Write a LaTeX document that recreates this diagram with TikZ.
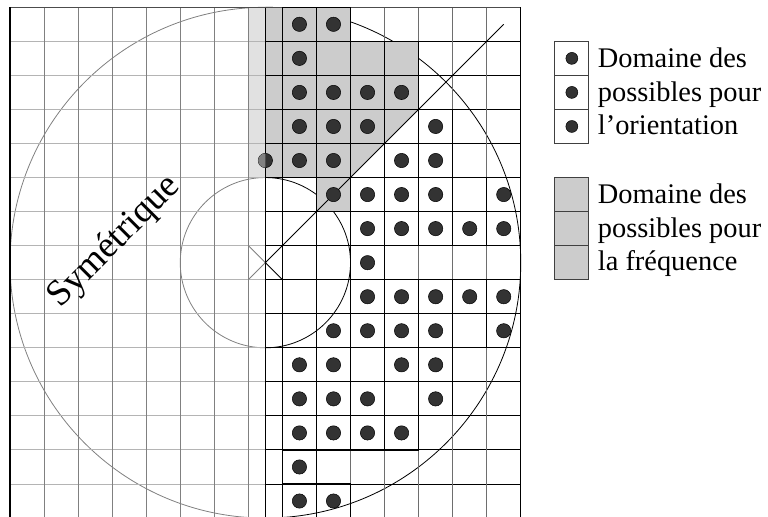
\documentclass[tikz,border=0pt]{standalone}
\usepackage{fontspec}
\setmainfont{Liberation Serif}
\usetikzlibrary{calc}
\definecolor{freqGray}{RGB}{204,204,204}
\definecolor{symGray}{RGB}{225,225,225}
\definecolor{dotFill}{RGB}{51,51,51}
\definecolor{leftLine}{RGB}{128,128,128}
\definecolor{leftLineH}{RGB}{180,180,180}
\definecolor{rightLine}{RGB}{110,110,110}

\begin{document}
\begin{tikzpicture}[x=34.05pt, y=34.05pt,
  dotmark/.style={fill=dotFill, draw=black, line width=0.5pt},
  cellbox/.style={draw=black, line width=1.1pt},
  legendbox/.style={draw=black!75, line width=1pt},
  legendtext/.style={anchor=north west, inner sep=0pt, align=left,
                     font=\fontsize{28.4}{33.5}\selectfont}]
  \useasboundingbox (-0.2937,0.031) rectangle (22.261,15.2144);
  \coordinate (ctr) at (7.5,7.5);
  \coordinate (tip) at (14.5,14.5);

  % cercles
  \draw[leftLine, line width=0.8pt] (7.5,15) arc (90:270:7.5);
  \draw[black, line width=0.8pt] (7.5,15) arc (90:-90:7.5);
  \draw[leftLine, line width=0.8pt] (7.5,10) arc (90:270:2.5);
  \draw[black, line width=0.8pt] (7.5,10) arc (90:-90:2.5);

  % domaines
  \fill[symGray] (7,10) rectangle (7.5,15);
  \fill[freqGray] (7.5,15) -- (10,15) -- (10,14) -- (12,14) -- (12,12)
    -- (10,10) -- (10,9) -- (9,9) -- (9,10) -- (7.5,10) -- cycle;

  % grille
  \foreach \i in {1,...,14} {
    \draw[leftLineH, line width=1pt] (0,\i) -- (7.5,\i);
    \draw[black, line width=1pt] (7.5,\i) -- (15,\i);
  }
  \foreach \i in {1,...,7}
    \draw[leftLine, line width=1pt] (\i,0) -- (\i,15);
  \foreach \i in {10,...,14}
    \draw[rightLine, line width=1pt] (\i,0) -- (\i,15);
  \foreach \i in {7.5,8,9}
    \draw[black, line width=1.1pt] (\i,0) -- (\i,15);
  \draw[black!70, line width=1.2pt] (0,15) -- (15,15);
  \draw[black, line width=1.2pt] (0,0) -- (0,15);
  \draw[black, line width=1.2pt] (15,0) -- (15,15);

  % cases du domaine des frequences
  \foreach \r/\cols in {0/{8,9}, 1/{8,9,10,11}, 2/{8,9,10,11},
                        3/{8,9,10,11}, 4/{8,9,10}, 5/{9}}
    \foreach \c in \cols
      \draw[cellbox] (\c,{14-\r}) rectangle ++(1,1);

  % axe et centre
  \draw[leftLine, line width=0.8pt] (7,8) -- (ctr) -- (7,7);
  \draw[black, line width=0.8pt] (8,7) -- (ctr) -- (tip);

  % orientations possibles
  \foreach \r/\cols in {0/{8,9}, 1/{8}, 2/{8,9,10,11}, 3/{8,9,10,12},
                        4/{8,9,11,12}, 5/{9,10,11,12,14}, 6/{10,11,12,13,14},
                        7/{10}, 8/{10,11,12,13,14}, 9/{9,10,11,12,14},
                        10/{8,9,11,12}, 11/{8,9,10,12}, 12/{8,9,10,11},
                        13/{8}, 14/{8,9}}
    \foreach \c in \cols {
      \draw[cellbox] (\c,{14-\r}) rectangle ++(1,1);
      \fill[dotmark] ({\c+0.5},{14.5-\r}) circle (0.21);
    }
  \fill[dotmark] (7.5,10.5) circle (0.21);
  \fill[leftLine] (7.5,10.71) arc (90:270:0.21) -- cycle;

  \node[rotate=45, inner sep=0pt, font=\fontsize{37}{42}\selectfont] (sym)
    at (3.08,8.1) {Symétrique};

  % legende
  \foreach \r in {1,2,3} {
    \draw[legendbox, fill=white] (16,{14-\r}) rectangle ++(1,1);
    \fill[dotmark] (16.5,{14.5-\r}) circle (0.175);
  }
  \foreach \r in {5,6,7}
    \draw[legendbox, fill=freqGray] (16,{14-\r}) rectangle ++(1,1);
  \node[legendtext] (orient) at (17.26,13.816)
    {Domaine des\\possibles pour\\l’orientation};
  \node[legendtext] (freq) at (17.26,9.816)
    {Domaine des\\possibles pour\\la fréquence};
\end{tikzpicture}
\end{document}
